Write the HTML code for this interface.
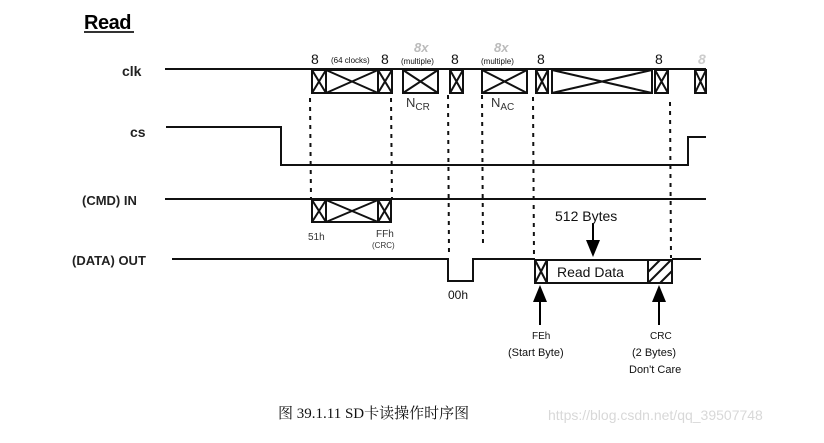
<!DOCTYPE html>
<html><head><meta charset="utf-8"><style>
html,body{margin:0;padding:0;background:#fff;}
svg{display:block;}
</style></head><body>
<svg width="824" height="443" viewBox="0 0 824 443" xmlns="http://www.w3.org/2000/svg" font-family="Liberation Sans, Arial, sans-serif">
<g fill="#000">
<text x="84" y="29" font-size="20" font-weight="bold" letter-spacing="-0.5">Read</text>
</g>
<line x1="84" y1="32" x2="134" y2="32" stroke="#333" stroke-width="2"/>
<g font-weight="bold" font-size="14" fill="#222">
<text x="122" y="76">clk</text>
<text x="130" y="137">cs</text>
<text x="82" y="205" font-size="13">(CMD) IN</text>
<text x="72" y="265" font-size="13">(DATA) OUT</text>
</g>
<g stroke="#111" stroke-width="2" fill="none">
<!-- clk -->
<line x1="165" y1="69" x2="706" y2="69"/>
<!-- cs -->
<polyline points="166,127 281,127 281,165 688,165 688,137 706,137"/>
<!-- cmd -->
<line x1="165" y1="199" x2="706" y2="199"/>
<!-- data -->
<polyline points="172,259 448,259 448,281 473,281 473,259 535,259"/>
<line x1="672" y1="259" x2="701" y2="259"/>
</g>
<!-- clk boxes -->
<g stroke="#111" stroke-width="2" fill="none">
<g id="b"></g>
<rect x="312" y="70" width="14" height="23"/><path d="M312 70L326 93M326 70L312 93"/>
<rect x="326" y="70" width="52" height="23"/><path d="M326 70L378 93M378 70L326 93"/>
<rect x="378" y="70" width="14" height="23"/><path d="M378 70L392 93M392 70L378 93"/>
<rect x="403" y="70" width="35" height="23"/><path d="M403 70L438 93M438 70L403 93"/>
<rect x="450" y="70" width="13" height="23"/><path d="M450 70L463 93M463 70L450 93"/>
<rect x="482" y="70" width="45" height="23"/><path d="M482 70L527 93M527 70L482 93"/>
<rect x="536" y="70" width="12" height="23"/><path d="M536 70L548 93M548 70L536 93"/>
<rect x="552" y="70" width="100" height="23"/><path d="M552 70L652 93M652 70L552 93"/>
<rect x="655" y="70" width="13" height="23"/><path d="M655 70L668 93M668 70L655 93"/>
<rect x="695" y="70" width="11" height="23"/><path d="M695 70L706 93M706 70L695 93"/>
<!-- cmd boxes -->
<rect x="312" y="200" width="14" height="22"/><path d="M312 200L326 222M326 200L312 222"/>
<rect x="326" y="200" width="52" height="22"/><path d="M326 200L378 222M378 200L326 222"/>
<rect x="378" y="200" width="13" height="22"/><path d="M378 200L391 222M391 200L378 222"/>
<!-- data box -->
<rect x="535" y="260" width="137" height="23"/>
<line x1="547" y1="260" x2="547" y2="283"/><path d="M535 260L547 283M547 260L535 283"/>
<line x1="648" y1="260" x2="648" y2="283"/>
<path d="M648 272L660 260M648 283L671 260M660 283L672 271" />
</g>
<!-- dotted -->
<g stroke="#111" stroke-width="2" stroke-dasharray="4,5" fill="none">
<line x1="310" y1="98" x2="311" y2="200"/>
<line x1="391" y1="98" x2="392" y2="200"/>
<line x1="448" y1="95" x2="449" y2="255"/>
<line x1="482" y1="95" x2="483" y2="245"/>
<line x1="533" y1="97" x2="534" y2="258"/>
<line x1="670" y1="102" x2="671" y2="258"/>
</g>
<!-- arrows -->
<g fill="#000" stroke="#000" stroke-width="2">
<line x1="593" y1="223" x2="593" y2="240"/>
<polygon points="586,240 600,240 593,257" stroke="none"/>
<line x1="540" y1="300" x2="540" y2="325"/>
<polygon points="533,302 547,302 540,285" stroke="none"/>
<line x1="659" y1="300" x2="659" y2="325"/>
<polygon points="652,302 666,302 659,285" stroke="none"/>
</g>
<!-- labels -->
<g fill="#111">
<text x="311" y="64" font-size="14">8</text>
<text x="331" y="63" font-size="8">(64 clocks)</text>
<text x="381" y="64" font-size="14">8</text>
<text x="401" y="64" font-size="8">(multiple)</text>
<text x="451" y="64" font-size="14">8</text>
<text x="481" y="64" font-size="8">(multiple)</text>
<text x="537" y="64" font-size="14">8</text>
<text x="655" y="64" font-size="14">8</text>
<text x="406" y="107" font-size="13" fill="#333">N<tspan font-size="10" dy="3">CR</tspan></text>
<text x="491" y="107" font-size="13" fill="#333">N<tspan font-size="10" dy="3">AC</tspan></text>
<text x="308" y="240" font-size="10" fill="#333">51h</text>
<text x="376" y="237" font-size="10" fill="#333">FFh</text>
<text x="372" y="248" font-size="8" fill="#333">(CRC)</text>
<text x="555" y="221" font-size="14">512 Bytes</text>
<text x="557" y="277" font-size="14">Read Data</text>
<text x="448" y="299" font-size="12">00h</text>
<text x="532" y="339" font-size="10">FEh</text>
<text x="508" y="356" font-size="11">(Start Byte)</text>
<text x="650" y="339" font-size="10">CRC</text>
<text x="632" y="356" font-size="11">(2 Bytes)</text>
<text x="629" y="373" font-size="11">Don't Care</text>
</g>
<g fill="#bbb" font-style="italic" font-weight="bold">
<text x="414" y="52" font-size="13">8x</text>
<text x="494" y="52" font-size="13">8x</text>
<text x="698" y="64" font-size="14" fill="#ccc">8</text>
</g>
<text x="278" y="418" font-size="15" font-family="Liberation Serif, Noto Serif CJK SC, serif" fill="#111">图 39.1.11 SD卡读操作时序图</text>
<text x="548" y="420" font-size="14" fill="#d8d8d8">https://blog.csdn.net/qq_39507748</text>
</svg>
</body></html>
